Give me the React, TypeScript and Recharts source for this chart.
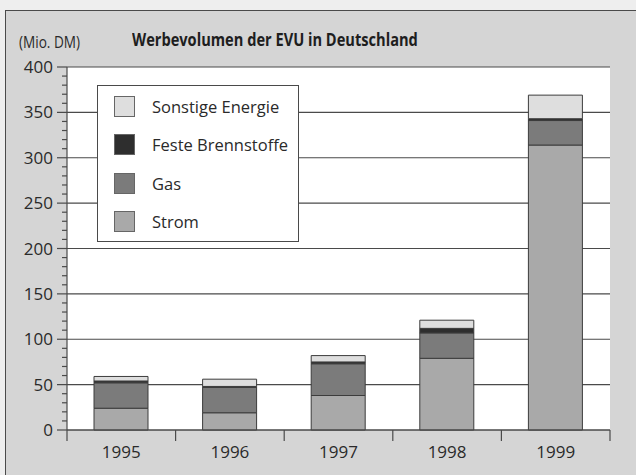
import React from 'react';
import { BarChart, Bar, XAxis, YAxis, CartesianGrid } from 'recharts';

const years = ['1995', '1996', '1997', '1998', '1999'];
const strom = [24, 19, 38, 79, 314];
const gas = [28, 28, 35, 28, 27];
const feste = [2, 1, 2, 5, 2];
const sonstige = [5, 8, 7, 9, 26];

const majorTicks = [0, 50, 100, 150, 200, 250, 300, 350, 400];
const minorTicks = Array.from({ length: 41 }, (_, i) => i * 10);

// bottom to top in the stack
const series = [
  { key: 'strom', name: 'Strom', color: '#a9a9a9' },
  { key: 'gas', name: 'Gas', color: '#7b7b7b' },
  { key: 'feste', name: 'Feste Brennstoffe', color: '#2e2e2e' },
  { key: 'sonstige', name: 'Sonstige Energie', color: '#dedede' },
];

const data = years.map((year, i) => ({
  year,
  strom: strom[i],
  gas: gas[i],
  feste: feste[i],
  sonstige: sonstige[i],
}));

const W = 636;
const H = 475;
const FONT = "'Open Sans', 'Noto Sans', sans-serif";
const LINE = '#4a4a4a';
const BAND = (W - 67 - 26) / years.length;

const YTick = (props: any) => {
  const { x, y, payload } = props;
  const major = payload.value % 50 === 0;
  return (
    <g>
      <line x1={x - (major ? 10 : 5)} x2={x} y1={y} y2={y} stroke={LINE} strokeWidth={1.2} />
      {major && (
        <text x={x - 14} y={y} dy={6} textAnchor="end" fontSize={17} fill="#2a2a2a" fontFamily={FONT}>
          {payload.value}
        </text>
      )}
    </g>
  );
};

const XTick = (props: any) => {
  const { x, y, payload, index } = props;
  return (
    <g>
      {index === 0 && (
        <line x1={x - BAND / 2} x2={x - BAND / 2} y1={y} y2={y + 11} stroke={LINE} strokeWidth={1.2} />
      )}
      <line x1={x + BAND / 2} x2={x + BAND / 2} y1={y} y2={y + 11} stroke={LINE} strokeWidth={1.2} />
      <text x={x} y={y + 28} textAnchor="middle" fontSize={17} fill="#2a2a2a" fontFamily={FONT}>
        {payload.value}
      </text>
    </g>
  );
};

const LegendBox = () => (
  <div
    style={{
      position: 'absolute',
      left: 97,
      top: 85,
      width: 202,
      height: 157,
      boxSizing: 'border-box',
      background: '#fff',
      border: `1px solid ${LINE}`,
      paddingTop: 1,
      fontFamily: FONT,
    }}
  >
    {[...series].reverse().map((s) => (
      <div key={s.key} style={{ height: 38.5, display: 'flex', alignItems: 'center' }}>
        <span
          style={{
            display: 'inline-block',
            width: 21,
            height: 21,
            marginLeft: 16,
            boxSizing: 'border-box',
            background: s.color,
            border: '1px solid #666',
          }}
        />
        <span style={{ marginLeft: 17, fontSize: 16.5, color: '#2a2a2a' }}>{s.name}</span>
      </div>
    ))}
  </div>
);

export default function App() {
  return (
    <div style={{ position: 'absolute', left: 0, top: 0, width: W, height: H, background: '#eeeeee', overflow: 'hidden' }}>
      <div
        style={{
          position: 'absolute',
          left: 5,
          top: 10,
          right: 0,
          bottom: 0,
          background: '#d5d5d5',
          borderTop: `1.5px solid ${LINE}`,
          borderLeft: `1.5px solid ${LINE}`,
        }}
      />
      <div
        style={{
          position: 'absolute',
          left: 19,
          top: 30,
          fontFamily: FONT,
          fontSize: 17,
          color: '#2a2a2a',
          transform: 'scaleX(0.8)',
          transformOrigin: 'left center',
          whiteSpace: 'nowrap',
        }}
      >
        (Mio. DM)
      </div>
      <div
        style={{
          position: 'absolute',
          left: 132,
          top: 28,
          fontFamily: FONT,
          fontSize: 17,
          fontWeight: 'bold',
          color: '#1e1e1e',
          transform: 'scaleX(0.86)',
          transformOrigin: 'left center',
          whiteSpace: 'nowrap',
        }}
      >
        Werbevolumen der EVU in Deutschland
      </div>
      <div style={{ position: 'absolute', left: 0, top: 0 }}>
        <BarChart width={W} height={H} data={data} margin={{ top: 67, right: 26, bottom: 0, left: 0 }}>
          <CartesianGrid vertical={false} horizontalValues={majorTicks} stroke={LINE} strokeWidth={1.2} fill="#ffffff" />
          <XAxis
            dataKey="year"
            height={45}
            tickLine={false}
            tickSize={0}
            tickMargin={0}
            axisLine={{ stroke: LINE, strokeWidth: 1.2 }}
            tick={<XTick />}
            interval={0}
          />
          <YAxis
            domain={[0, 400]}
            ticks={minorTicks}
            interval={0}
            width={67}
            tickLine={false}
            tickSize={0}
            tickMargin={0}
            axisLine={{ stroke: LINE, strokeWidth: 1.2 }}
            tick={<YTick />}
          />
          <YAxis
            yAxisId="right"
            orientation="right"
            domain={[0, 400]}
            width={0}
            tick={false}
            tickLine={false}
            axisLine={{ stroke: LINE, strokeWidth: 1.2 }}
          />
          {series.map((s) => (
            <Bar
              key={s.key}
              dataKey={s.key}
              name={s.name}
              stackId="a"
              fill={s.color}
              stroke="#3c3c3c"
              strokeWidth={1}
              barSize={54}
              isAnimationActive={false}
            />
          ))}
        </BarChart>
      </div>
      <LegendBox />
    </div>
  );
}
